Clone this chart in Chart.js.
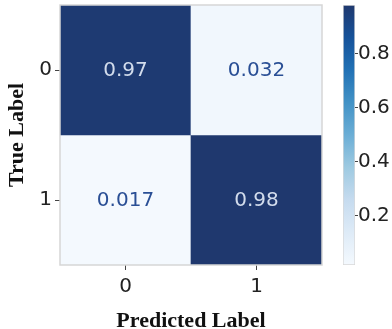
<!DOCTYPE html>
<html>
<head>
<meta charset="utf-8">
<script src="https://cdn.jsdelivr.net/npm/chart.js@4/dist/chart.umd.min.js"></script>
<style>
  body { margin: 0; background: #fff; }
  #wrap { position: relative; width: 392px; height: 329px; }
  #heat { position: absolute; left: 0; top: 0; }
  #bar { position: absolute; left: 330px; top: 0; }
</style>
</head>
<body>
<div id="wrap">
  <canvas id="heat" width="330" height="329"></canvas>
  <canvas id="bar" width="62" height="329"></canvas>
</div>
<script>
// data
const rowLabels = ["0", "1"];
const colLabels = ["0", "1"];
const row0 = [0.97, 0.032];
const row1 = [0.017, 0.98];
const cbTicks = [0.2, 0.4, 0.6, 0.8];

const rows = [row0, row1];
const vmin = Math.min(...row0, ...row1);
const vmax = Math.max(...row0, ...row1);

// Blues colormap (tuned a bit to the picture)
const stops = [
  [0.0, [244, 249, 254]],
  [0.125, [222, 235, 247]],
  [0.25, [198, 219, 239]],
  [0.375, [158, 202, 225]],
  [0.5, [107, 174, 214]],
  [0.625, [66, 146, 198]],
  [0.75, [33, 113, 181]],
  [0.875, [22, 82, 154]],
  [1.0, [31, 56, 110]]
];

function blues(t) {
  t = Math.max(0, Math.min(1, t));
  for (let i = 1; i < stops.length; i++) {
    if (t <= stops[i][0]) {
      const a = stops[i - 1], b = stops[i];
      const f = (t - a[0]) / (b[0] - a[0]);
      const c = a[1].map((v, k) => Math.round(v + (b[1][k] - v) * f));
      return "rgb(" + c.join(",") + ")";
    }
  }
  return "rgb(31,56,110)";
}

function norm(v) {
  return (v - vmin) / (vmax - vmin);
}

const tickFont = { family: "'DejaVu Sans', sans-serif", size: 20 };
const titleFont = { family: "'Liberation Serif', 'Times New Roman', serif", size: 22, weight: "bold" };

// one dataset per row, bars overlap (grouped: false)
const datasets = rows.map((vals, r) => ({
  data: vals.map(() => [r - 0.5, r + 0.5]),
  backgroundColor: vals.map(v => blues(norm(v))),
  barPercentage: 1,
  categoryPercentage: 1,
  grouped: false,
  borderWidth: 0
}));

// cell values + frame
const cellText = {
  id: "cellText",
  afterDraw(chart) {
    const ctx = chart.ctx;
    const area = chart.chartArea;
    ctx.save();
    ctx.strokeStyle = "#d6d6d6";
    ctx.lineWidth = 1.5;
    ctx.strokeRect(area.left, area.top, area.right - area.left, area.bottom - area.top);
    ctx.font = "20px 'DejaVu Sans', sans-serif";
    ctx.textAlign = "center";
    ctx.textBaseline = "middle";
    rows.forEach((vals, r) => {
      const meta = chart.getDatasetMeta(r);
      vals.forEach((v, c) => {
        const el = meta.data[c];
        const cy = (el.y + el.base) / 2 + 1;
        ctx.fillStyle = norm(v) > 0.5 ? "#d2dcec" : "#2a4f95";
        ctx.fillText(String(v), el.x, cy);
      });
    });
    ctx.restore();
  }
};

new Chart(document.getElementById("heat"), {
  type: "bar",
  data: { labels: colLabels, datasets: datasets },
  options: {
    responsive: false,
    animation: false,
    layout: { padding: { top: 5, right: 8, left: 0, bottom: 0 } },
    plugins: { legend: { display: false }, tooltip: { enabled: false } },
    scales: {
      x: {
        type: "category",
        offset: true,
        z: 1,
        grid: { offset: false, color: "rgba(160,180,210,0.45)", tickLength: 5, tickColor: "#444", lineWidth: 1 },
        border: { display: false },
        ticks: { font: tickFont, color: "#222", padding: 5 },
        title: { display: true, text: "Predicted Label", font: titleFont, color: "#111", padding: { top: 4, bottom: -6 } },
        afterFit(scale) {
          scale.height = 64;
          scale.paddingLeft = 0;
          scale.paddingRight = 0;
        }
      },
      y: {
        type: "linear",
        min: -0.5,
        max: 1.5,
        reverse: true,
        z: 1,
        afterBuildTicks(scale) { scale.ticks = rowLabels.map((l, i) => ({ value: i })); },
        grid: { color: "rgba(160,180,210,0.45)", tickLength: 5, tickColor: "#444", lineWidth: 1 },
        border: { display: false },
        ticks: { font: tickFont, color: "#222", padding: 3, callback: v => rowLabels[v] },
        title: { display: true, text: "True Label", font: titleFont, color: "#111", padding: { bottom: 4 } },
        afterFit(scale) {
          scale.width = 60;
          scale.paddingTop = 0;
          scale.paddingBottom = 0;
        }
      }
    }
  },
  plugins: [cellText]
});

// colorbar
new Chart(document.getElementById("bar"), {
  type: "bar",
  data: {
    labels: [""],
    datasets: [{
      data: [[vmin, vmax]],
      barPercentage: 1,
      categoryPercentage: 1,
      borderWidth: 1,
      borderColor: "#d8d8d8",
      borderSkipped: false,
      backgroundColor(ctx) {
        const area = ctx.chart.chartArea;
        if (!area) return "#fff";
        const g = ctx.chart.ctx.createLinearGradient(0, area.bottom, 0, area.top);
        stops.forEach(s => g.addColorStop(s[0], blues(s[0])));
        return g;
      }
    }]
  },
  options: {
    responsive: false,
    animation: false,
    layout: { padding: { top: 5, left: 13, bottom: 64, right: 0 } },
    plugins: { legend: { display: false }, tooltip: { enabled: false } },
    scales: {
      x: { display: false },
      y: {
        position: "right",
        min: vmin,
        max: vmax,
        afterBuildTicks(scale) { scale.ticks = cbTicks.map(v => ({ value: v })); },
        grid: { drawOnChartArea: false, tickLength: 3, tickColor: "#444" },
        border: { display: false },
        ticks: { font: tickFont, color: "#222", padding: 0, callback: v => v.toFixed(1) },
        afterFit(scale) {
          scale.width = 37;
          scale.paddingTop = 0;
          scale.paddingBottom = 0;
        }
      }
    }
  }
});
</script>
</body>
</html>
